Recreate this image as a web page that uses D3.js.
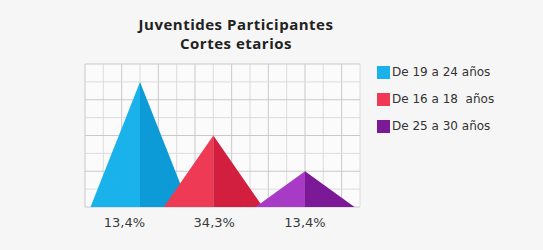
<!DOCTYPE html>
<html>
<head>
<meta charset="utf-8">
<script src="https://cdn.jsdelivr.net/npm/d3@7"></script>
<style>
  body { margin: 0; background: #f6f6f6; }
  text { font-family: "DejaVu Sans", sans-serif; }
</style>
</head>
<body>
<div id="chart"></div>
<script>
"use strict";

// data
const categories = ["De 19 a 24 años", "De 16 a 18  años", "De 25 a 30 años"];
const peakValues = [7, 4, 2];          // apex height in grid rows
const peakPositions = [3, 7, 12];      // apex position in grid columns
const valueLabels = ["13,4%", "34,3%", "13,4%"];
const labelPositions = [2.15, 7.05, 12];
const titleLines = ["Juventides Participantes", "Cortes etarios"];
const lightColors = ["#19b2ea", "#ee3a55", "#a83bc6"];
const darkColors = ["#0c9bd6", "#d21f3f", "#7c1996"];

const size = {
    width: 543,
    height: 250,
    left: 85,
    right: 360,
    top: 64,
    bottom: 207
};

const svg = d3.select("#chart")
    .append("svg")
    .attr("width", size.width)
    .attr("height", size.height);

const xScale = d3.scaleLinear().domain([0, 15]).range([size.left, size.right]);
const yScale = d3.scaleLinear().domain([0, 8]).range([size.bottom, size.top]);
const halfWidth = 2.7;

// plot background + grid
svg.append("rect")
    .attr("x", size.left)
    .attr("y", size.top)
    .attr("width", size.right - size.left)
    .attr("height", size.bottom - size.top)
    .attr("fill", "#fbfbfb");

svg.append("g")
    .selectAll("line")
    .data(d3.range(0, 16))
    .enter()
    .append("line")
    .attr("x1", d => xScale(d))
    .attr("x2", d => xScale(d))
    .attr("y1", size.top)
    .attr("y2", size.bottom)
    .attr("stroke", d => d % 2 == 0 ? "#c9c9c9" : "#dcdcdc")
    .attr("stroke-width", 1);

svg.append("g")
    .selectAll("line")
    .data(d3.range(0, 9))
    .enter()
    .append("line")
    .attr("x1", size.left)
    .attr("x2", size.right)
    .attr("y1", d => yScale(d))
    .attr("y2", d => yScale(d))
    .attr("stroke", d => d % 2 == 0 ? "#c9c9c9" : "#dcdcdc")
    .attr("stroke-width", 1);

// triangles, each as two halves
const peaks = categories.map((c, i) => ({
    name: c,
    x: peakPositions[i],
    y: peakValues[i],
    light: lightColors[i],
    dark: darkColors[i]
}));

const g = svg.append("g");
peaks.forEach(function (d) {
    g.append("path")
        .attr("d", d3.line()([
            [xScale(d.x - halfWidth), yScale(0)],
            [xScale(d.x), yScale(d.y)],
            [xScale(d.x), yScale(0)]
        ]) + "Z")
        .attr("fill", d.light);
    g.append("path")
        .attr("d", d3.line()([
            [xScale(d.x), yScale(0)],
            [xScale(d.x), yScale(d.y)],
            [xScale(d.x + halfWidth), yScale(0)]
        ]) + "Z")
        .attr("fill", d.dark);
});

// labels under the peaks
svg.append("g")
    .selectAll("text")
    .data(valueLabels)
    .enter()
    .append("text")
    .attr("x", (d, i) => xScale(labelPositions[i]))
    .attr("y", 227)
    .attr("text-anchor", "middle")
    .style("font-size", "13px")
    .style("fill", "#3a3a3a")
    .text(d => d);

// title
svg.append("g")
    .selectAll("text")
    .data(titleLines)
    .enter()
    .append("text")
    .attr("x", 236)
    .attr("y", (d, i) => 30 + i * 19)
    .attr("text-anchor", "middle")
    .style("font-family", "'Open Sans', sans-serif")
    .style("font-size", "15px")
    .style("font-weight", "bold")
    .style("letter-spacing", "0.5px")
    .style("fill", "#222")
    .text(d => d);

// legend
const legend = svg.append("g");
legend.selectAll("rect")
    .data(peaks)
    .enter()
    .append("rect")
    .attr("x", 377)
    .attr("y", (d, i) => 66 + i * 27)
    .attr("width", 13)
    .attr("height", 13)
    .attr("fill", (d, i) => i == 2 ? d.dark : d.light);

legend.selectAll("text")
    .data(peaks)
    .enter()
    .append("text")
    .attr("x", 392)
    .attr("y", (d, i) => 72.5 + i * 27)
    .attr("dominant-baseline", "middle")
    .style("font-size", "12px")
    .style("fill", "#333")
    .style("white-space", "pre")
    .text(d => d.name);
</script>
</body>
</html>
